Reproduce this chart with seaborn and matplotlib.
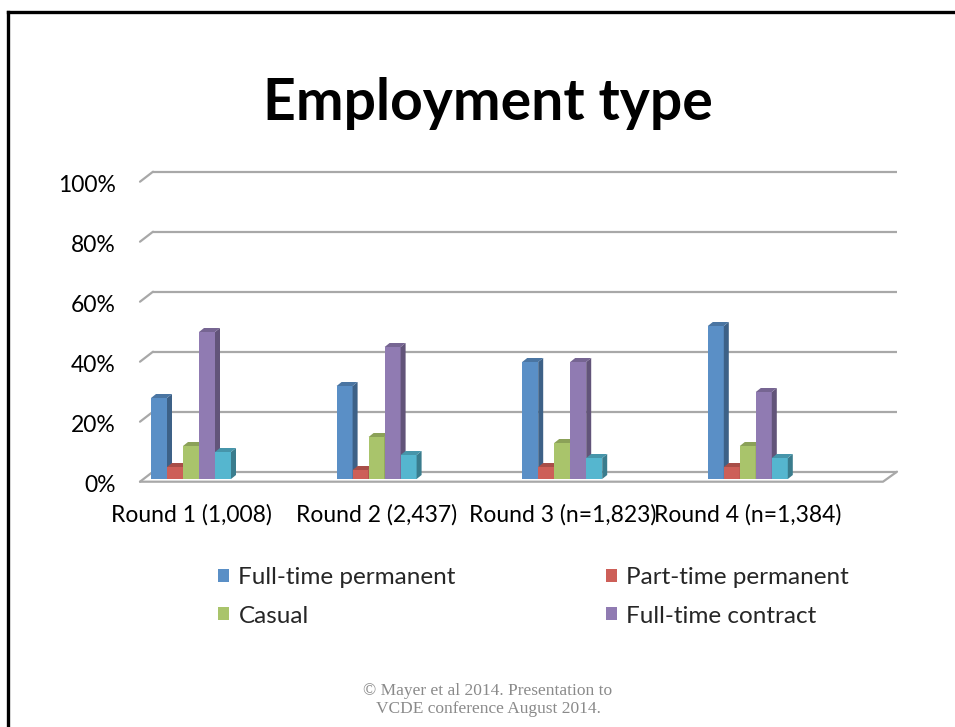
import matplotlib
matplotlib.use("Agg")
import matplotlib.pyplot as plt
from matplotlib.patches import Polygon, Patch
from matplotlib.lines import Line2D
from matplotlib.colors import to_rgb
import numpy as np
import pandas as pd
import seaborn as sns

# ---- data -------------------------------------------------------------
rounds = ["Round 1 (1,008)", "Round 2 (2,437)", "Round 3 (n=1,823)", "Round 4 (n=1,384)"]
emp_types = ["Full-time permanent", "Part-time permanent", "Casual", "Full-time contract", "Other"]
full_time_permanent = [27, 31, 39, 51]
part_time_permanent = [4, 3, 4, 4]
casual = [11, 14, 12, 11]
full_time_contract = [49, 44, 39, 29]
other = [9, 8, 7, 7]
y_ticks = [0, 20, 40, 60, 80, 100]

colors = ["#5A8FC6", "#CD5F58", "#A9C46B", "#907BB2", "#55B6CF"]

series = [full_time_permanent, part_time_permanent, casual, full_time_contract, other]
df = pd.DataFrame({
    "round": np.repeat([rounds], len(emp_types), axis=0).ravel(),
    "type": np.repeat(emp_types, len(rounds)),
    "value": np.concatenate(series),
})

# ---- figure layout (pixel based) --------------------------------------
W, H = 955, 727
sns.set_theme(style="white")
plt.rcParams["font.family"] = ["Lato", "DejaVu Sans"]

fig = plt.figure(figsize=(W / 100, H / 100), dpi=100)

# slide frame: top and left edges
fig.add_artist(Line2D([8 / W, 8 / W], [-0.05, 1 - 12 / H],
                      transform=fig.transFigure, color="black", linewidth=2.4,
                      solid_capstyle="projecting", zorder=0))
fig.add_artist(Line2D([8 / W, 1.05], [1 - 12 / H, 1 - 12 / H],
                      transform=fig.transFigure, color="black", linewidth=2.4,
                      solid_capstyle="projecting", zorder=0))

def px_box(left, top, right, bottom):
    return [left / W, 1 - bottom / H, (right - left) / W, (bottom - top) / H]

ax_l, ax_t, ax_r, ax_b = 120, 160, 905, 490
ax = fig.add_axes(px_box(ax_l, ax_t, ax_r, ax_b))

# pixel -> data helpers for this axes
X0, XS = 191.0, 185.6      # category 0 centre, pixels per category
Y0, YS = 479.0, 3.0        # zero line, pixels per percent
def dx(p):
    return (p - X0) / XS
def dy(q):
    return (Y0 - q) / YS

sns.barplot(data=df, x="round", y="value", hue="type", hue_order=emp_types,
            palette=colors, width=80 / XS, gap=0, errorbar=None,
            saturation=1, legend=False, ax=ax, linewidth=0)

ax.set_xlim(dx(ax_l), dx(ax_r))
ax.set_ylim(dy(ax_b), dy(ax_t))

# ---- 3-D style floor and back wall gridlines --------------------------
grid_c = "#A8A8A8"
back_off_y = 10 / YS
front_left = dx(140)
back_left, back_right = dx(153), dx(897)
front_right = dx(883)
front_floor = dy(481.7)
for v in y_ticks:
    yb = front_floor + v + back_off_y
    ax.plot([back_left, back_right], [yb, yb], color=grid_c, lw=1.6, zorder=1,
            solid_capstyle="butt")
    ax.plot([front_left, back_left], [front_floor + v, yb], color=grid_c, lw=1.6, zorder=1)
ax.plot([front_left, front_right, back_right], [front_floor, front_floor,
        front_floor + back_off_y], color=grid_c, lw=1.6, zorder=1)

# ---- give each bar a side and a top face ------------------------------
def shade(c, f):
    r, g, b = to_rgb(c)
    return (r * f, g * f, b * f)

bars = sorted([p for p in ax.patches if p.get_height() > 0], key=lambda p: p.get_x())
sx, sy = 5 / XS, 4 / YS
for k, bar in enumerate(bars):
    x0, w, h = bar.get_x(), bar.get_width(), bar.get_height()
    x1 = x0 + w
    fc = bar.get_facecolor()
    bar.set_zorder(3 + 2 * k)
    side = Polygon([(x1, 0), (x1 + sx, sy), (x1 + sx, h + sy), (x1, h)],
                   closed=True, facecolor=shade(fc, 0.68), edgecolor="none",
                   zorder=4 + 2 * k)
    top = Polygon([(x0, h), (x1, h), (x1 + sx, h + sy), (x0 + sx, h + sy)],
                  closed=True, facecolor=shade(fc, 0.82), edgecolor="none",
                  zorder=4 + 2 * k)
    ax.add_patch(side)
    ax.add_patch(top)

# ---- axes cosmetics ---------------------------------------------------
for s in ax.spines.values():
    s.set_visible(False)
ax.set_xlabel("")
ax.set_ylabel("")
ax.set_yticks([front_floor + v - 0.5 for v in y_ticks])
ax.set_yticklabels([f"{v}%" for v in y_ticks])
ax.set_xticks(range(len(rounds)))
ax.set_xticklabels(rounds)
ax.tick_params(axis="both", length=0, labelsize=16.5, colors="black")
ax.tick_params(axis="y", pad=3)
ax.tick_params(axis="x", pad=10)
ax.grid(False)

# ---- legend (two columns, first four series) --------------------------
fs = 17.5
handles = [Patch(facecolor=c, edgecolor="none") for c in colors]
common = dict(frameon=False, fontsize=fs, handlelength=0.46, handleheight=0.46,
              handletextpad=0.38, labelspacing=0.7, borderpad=0, borderaxespad=0,
              loc="center left")
fig.legend([handles[0], handles[2]], [emp_types[0], emp_types[2]],
           bbox_to_anchor=(218 / W, 1 - 597 / H), **common)
fig.legend([handles[1], handles[3]], [emp_types[1], emp_types[3]],
           bbox_to_anchor=(606 / W, 1 - 597 / H), **common)

# ---- title and footer -------------------------------------------------
fig.text(488 / W, 1 - 103 / H, "Employment type", ha="center", va="center",
         fontsize=41, fontweight="bold", color="black")
fig.text(488 / W, 1 - 700 / H,
         "© Mayer et al 2014. Presentation to\nVCDE conference August 2014.",
         ha="center", va="center", fontsize=12.5, color="#8A8A8A",
         family=["Liberation Serif", "DejaVu Serif"], linespacing=1.15)

fig.savefig("out.png", dpi=100)
